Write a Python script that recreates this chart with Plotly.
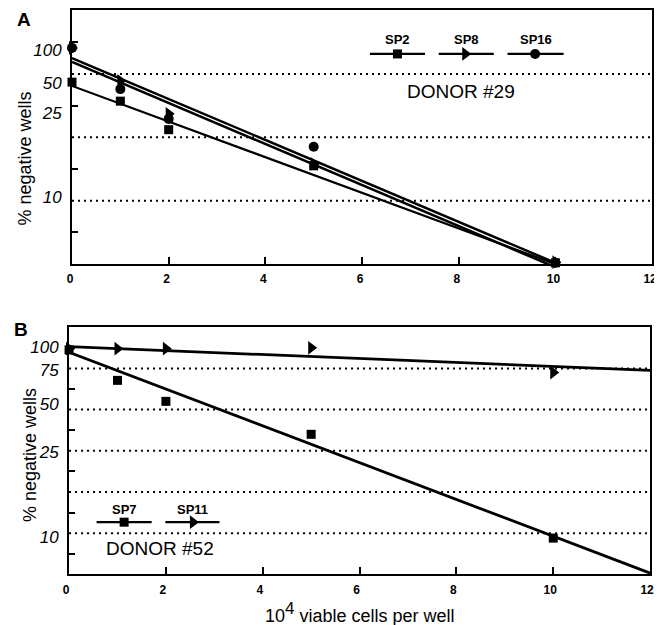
import plotly.graph_objects as go

# ---------------- data ----------------
# y values are positions on the figure's (non-linear) "% negative wells" scale,
# expressed in grid units: dotted grid lines sit at 1, 2, 3 (panel A) and 1..5 (panel B)
doses = [0, 1, 2, 5, 10]

# Panel A  - DONOR #29
a_sp2 = [2.87, 2.57, 2.12, 1.55, 0.02]
a_sp8 = [3.41, 2.89, 2.37, 1.58, 0.03]
a_sp16 = [3.41, 2.76, 2.29, 1.85, 0.02]
a_fit_x = [0, 10]
a_sp2_fit = [2.81, 0.0]
a_sp8_fit = [3.25, 0.02]
a_sp16_fit = [3.19, -0.05]
a_ytick_vals = [3.38, 2.86, 2.38, 1.06]
a_ytick_text = ["100", "50", "25", "10"]
a_grid = [1, 2, 3]
a_minor = [0.5, 1.5, 2.5, 3.5]

# Panel B  - DONOR #52
b_sp7 = [5.45, 4.71, 4.20, 3.40, 0.88]
b_sp11 = [5.48, 5.48, 5.48, 5.50, 4.90]
b_fit_x = [0, 12]
b_sp7_fit = [5.39, 0.03]
b_sp11_fit = [5.53, 4.95]
b_ytick_vals = [5.53, 4.95, 4.13, 2.97, 0.90]
b_ytick_text = ["100", "75", "50", "25", "10"]
b_grid = [1, 2, 3, 4, 5]
b_minor = [0.5, 1.5, 2.5, 3.5, 4.5, 5.5]

x_ticks = [0, 2, 4, 6, 8, 10, 12]
x_tick_text = ["0", "2", "4", "6", "8", "10", "12"]

# ---------------- styling ----------------
OFF = 8                      # default page (body) margin of the written html
W, H = 662 - OFF, 625 - OFF  # visible figure area
FONT = "Liberation Sans"
BLACK = "black"
MK = dict(square=dict(symbol="square", size=9),
          tri=dict(symbol="triangle-right", size=12),
          circ=dict(symbol="circle", size=10))


def fx(p):
    return (p - OFF) / W


def fy(p):
    return 1 - (p - OFF) / H


fig = go.Figure()


def add_line(x, y, xa, ya, w=2.2):
    fig.add_trace(go.Scatter(x=x, y=y, mode="lines", xaxis=xa, yaxis=ya,
                             line=dict(color=BLACK, width=w), cliponaxis=False,
                             showlegend=False, hoverinfo="skip"))


def add_pts(x, y, xa, ya, kind):
    m = dict(MK[kind])
    m["color"] = BLACK
    fig.add_trace(go.Scatter(x=x, y=y, mode="markers", xaxis=xa, yaxis=ya,
                             marker=m, cliponaxis=False, showlegend=False))


# Panel A
add_line(a_fit_x, a_sp2_fit, "x", "y", 2.2)
add_line(a_fit_x, a_sp8_fit, "x", "y", 2.5)
add_line(a_fit_x, a_sp16_fit, "x", "y", 2.5)
add_pts(doses, a_sp16, "x", "y", "circ")
add_pts(doses, a_sp8, "x", "y", "tri")
add_pts(doses, a_sp2, "x", "y", "square")

# Panel B
add_line(b_fit_x, b_sp7_fit, "x2", "y2", 2.8)
add_line(b_fit_x, b_sp11_fit, "x2", "y2", 2.8)
add_pts(doses, b_sp11, "x2", "y2", "tri")
add_pts(doses, b_sp7, "x2", "y2", "square")

# Legend samples (overlay axis in page-pixel units)
legend_items = [
    (370, 426, 398, 53, "square", "SP2", 39),
    (440, 496, 467, 53, "tri", "SP8", 39),
    (510, 567, 538, 53, "circ", "SP16", 39),
    (92, 148, 120, 522, "square", "SP7", 509),
    (162, 217, 190, 522, "tri", "SP11", 509),
]
annotations = []
for x0, x1, xm, yl, kind, lab, ylab in legend_items:
    add_line([x0, x1], [yl, yl], "x3", "y3", 2.2)
    add_pts([xm], [yl], "x3", "y3", kind)
    annotations.append(dict(x=fx((x0 + x1) / 2), y=fy(ylab), xref="paper", yref="paper",
                            text=lab, showarrow=False, xanchor="center", yanchor="middle",
                            font=dict(family=FONT, size=13, color=BLACK, weight="bold")))

for txt, cx, cy in [("DONOR #29", 463, 91), ("DONOR #52", 157, 548)]:
    annotations.append(dict(x=fx(cx), y=fy(cy), text=txt, xref="paper", yref="paper",
                            showarrow=False, xanchor="center", yanchor="middle",
                            font=dict(family=FONT, size=19, color=BLACK)))

annotations += [
    dict(x=fx(18), y=fy(19), text="A", xref="paper", yref="paper", showarrow=False,
         xanchor="center", yanchor="middle", font=dict(family=FONT, size=19, color=BLACK, weight="bold")),
    dict(x=fx(15), y=fy(329), text="B", xref="paper", yref="paper", showarrow=False,
         xanchor="center", yanchor="middle", font=dict(family=FONT, size=19, color=BLACK, weight="bold")),
    dict(x=fx(19), y=fy(158), text="% negative wells", textangle=-90, xref="paper", yref="paper",
         showarrow=False, xanchor="center", yanchor="middle", font=dict(family=FONT, size=18, color=BLACK)),
    dict(x=fx(25), y=fy(455), text="% negative wells", textangle=-90, xref="paper", yref="paper",
         showarrow=False, xanchor="center", yanchor="middle", font=dict(family=FONT, size=18, color=BLACK)),
    dict(x=fx(360), y=fy(612),
         text="10<sup><span style='font-size:17px'>4</span></sup> viable cells per well",
         xref="paper", yref="paper",
         showarrow=False, xanchor="center", yanchor="middle", font=dict(family=FONT, size=18, color=BLACK)),
]

shapes = []
for g in a_grid:
    shapes.append(dict(type="line", xref="x domain", yref="y", x0=0, x1=1, y0=g, y1=g, layer="below",
                       line=dict(color=BLACK, width=2, dash="2px,4px")))
for g in b_grid:
    shapes.append(dict(type="line", xref="x2 domain", yref="y2", x0=0, x1=1, y0=g, y1=g, layer="below",
                       line=dict(color=BLACK, width=2, dash="2px,4px")))

xcommon = dict(range=[0, 12], tickmode="array", tickvals=x_ticks, ticktext=x_tick_text,
               ticks="inside", ticklen=7, tickwidth=2, tickcolor=BLACK,
               showline=True, linewidth=2, linecolor=BLACK, mirror=True,
               showgrid=False, zeroline=False, ticklabelstandoff=3,
               tickfont=dict(family=FONT, size=12, color=BLACK, weight="bold"))


def ycommon(rng, vals, text, minor):
    return dict(range=rng, tickmode="array", tickvals=vals, ticktext=text, ticks="",
                showline=True, linewidth=2, linecolor=BLACK, mirror=True,
                showgrid=False, zeroline=False, ticklabelstandoff=5,
                tickfont=dict(family=FONT, size=17, color=BLACK, style="italic"),
                minor=dict(tickmode="array", tickvals=minor, ticks="inside", ticklen=6,
                           tickwidth=2, tickcolor=BLACK, showgrid=False))


fig.update_layout(
    width=W, height=H, margin=dict(l=0, r=0, t=0, b=0),
    paper_bgcolor="white", plot_bgcolor="rgba(0,0,0,0)",
    showlegend=False,
    xaxis=dict(domain=[fx(67), fx(657)], anchor="y", ticklabelshift=-2, **xcommon),
    yaxis=dict(domain=[fy(263.5), fy(9.5)], anchor="x", **ycommon([0, 4], a_ytick_vals, a_ytick_text, a_minor)),
    xaxis2=dict(domain=[fx(64), fx(655)], anchor="y2", ticklabelshift=-3, **xcommon),
    yaxis2=dict(domain=[fy(574.25), fy(326.75)], anchor="x2", **ycommon([0, 6], b_ytick_vals, b_ytick_text, b_minor)),
    xaxis3=dict(domain=[0, 1], range=[OFF, OFF + W], anchor="y3", visible=False),
    yaxis3=dict(domain=[0, 1], range=[OFF + H, OFF], anchor="x3", visible=False),
    annotations=annotations,
    shapes=shapes,
)

fig.write_html("out.html")
